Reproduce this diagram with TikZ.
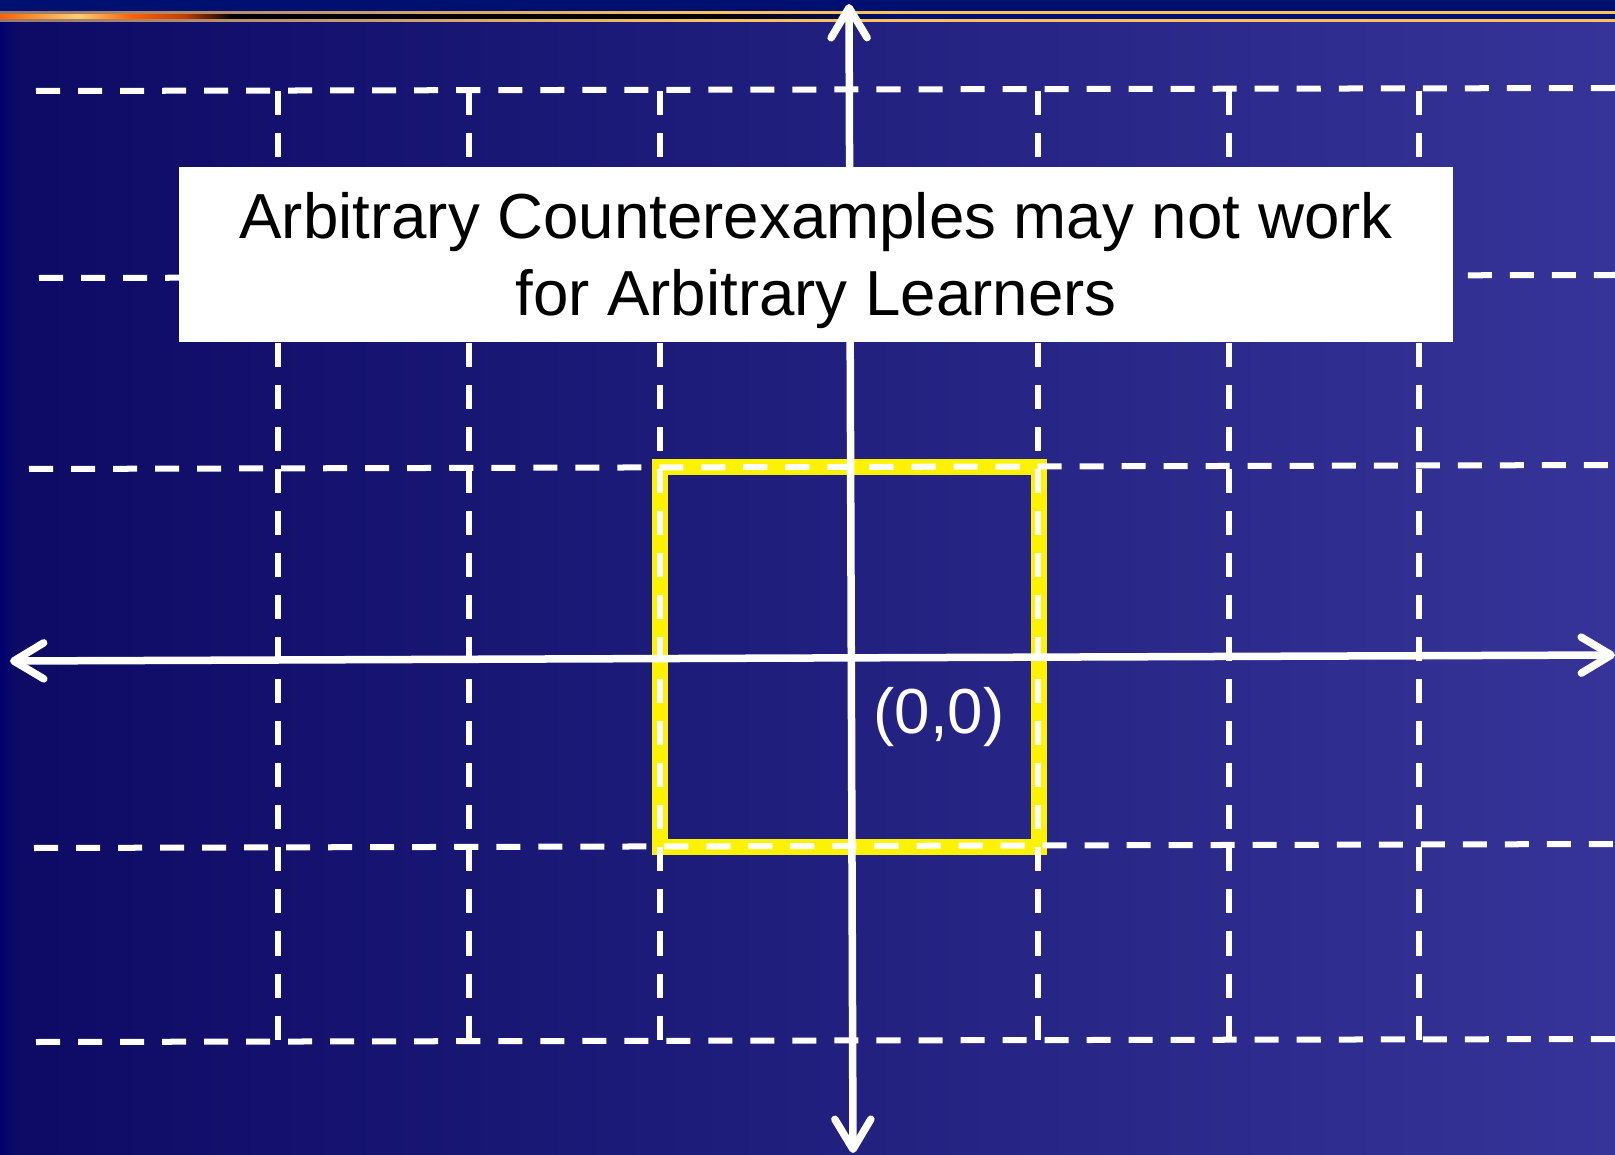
\documentclass[tikz,border=0pt]{standalone}
\usepackage{fontspec}
\setmainfont{Liberation Sans}
\usetikzlibrary{arrows.meta}
\definecolor{bgleft}{RGB}{12,10,100}
\definecolor{bgright}{RGB}{54,52,152}
\definecolor{bgedge}{RGB}{0,0,112}
\definecolor{topnavy}{RGB}{0,16,112}
\definecolor{barorange}{RGB}{255,96,0}
\definecolor{barlight}{RGB}{255,208,112}
\definecolor{bardark}{RGB}{190,64,0}
\definecolor{gold}{RGB}{248,192,96}
\definecolor{tan}{RGB}{150,120,115}
\pgfdeclarehorizontalshading{barmid}{100bp}{color(0bp)=(barorange); color(25bp)=(barorange);
  color(27.4bp)=(barlight); color(29.1bp)=(barorange); color(30.7bp)=(bardark);
  color(32.2bp)=(black); color(46.7bp)=(black); color(52.9bp)=(topnavy); color(100bp)=(topnavy)}
\pgfdeclarehorizontalshading{barline}{100bp}{color(0bp)=(tan); color(25bp)=(tan);
  color(46.7bp)=(gold); color(100bp)=(gold)}

\begin{document}
\begin{tikzpicture}[
    x=.01cm,y=-.01cm,
    gline/.style={draw=white,line width=.06cm,dash pattern=on .24cm off .18cm},
    ax/.style={draw=white,line width=.075cm,
      {Straight Barb[length=.3cm,width=.36cm,round]}-{Straight Barb[length=.3cm,width=.36cm,round]}},
    hl/.style={draw=yellow,line width=.16cm},
    msgbox/.style={fill=white,inner sep=0pt,minimum width=12.74cm,minimum height=1.75cm},
    msgtext/.style={align=center,font=\fontsize{18.1}{21.9}\selectfont,inner sep=0pt},
    lbl/.style={text=white,font=\fontsize{18.1}{21.9}\selectfont,inner sep=0pt,anchor=base west}
  ]
    \useasboundingbox (0,0) rectangle (1615,1155);
    \shade[left color=bgleft,right color=bgright] (0,0) rectangle (1615,1155);
    \shade[left color=bgedge,right color=bgleft] (0,22) rectangle (14,1155);
    \fill[topnavy] (0,0) rectangle (1615,12);
    \shade[shading=barline] (0,12) rectangle (1615,14.7);
    \shade[shading=barmid] (0,14.7) rectangle (1615,19.3);
    \shade[shading=barline] (0,19.3) rectangle (1615,21.7);
    \draw[hl] (660,467) rectangle (1039,847);
    \foreach \y/\xa/\dy in {91/36/3,278/39/3,469/29/4,848/34/4,1042/36/3} {\draw[gline] (\xa,\y) -- (1615,\y-\dy);}
    \foreach \x in {278,469,660,1038,1229,1419} {\draw[gline] (\x,91) -- (\x,1042);}
    \coordinate (xl) at (10,661); \coordinate (xr) at (1615,655);
    \coordinate (yt) at (849,4); \coordinate (yb) at (853,1153);
    \draw[ax] (xl) -- (xr);
    \draw[ax] (yt) -- (yb);
    \node[msgbox] (msgbox) at (816,254.5) {};
    \node[msgtext] (msg) at (816,261) {Arbitrary Counterexamples may not work\\for Arbitrary Learners};
    \node[lbl] (origin) at (873,733) {(0,0)};
  \end{tikzpicture}
\end{document}
